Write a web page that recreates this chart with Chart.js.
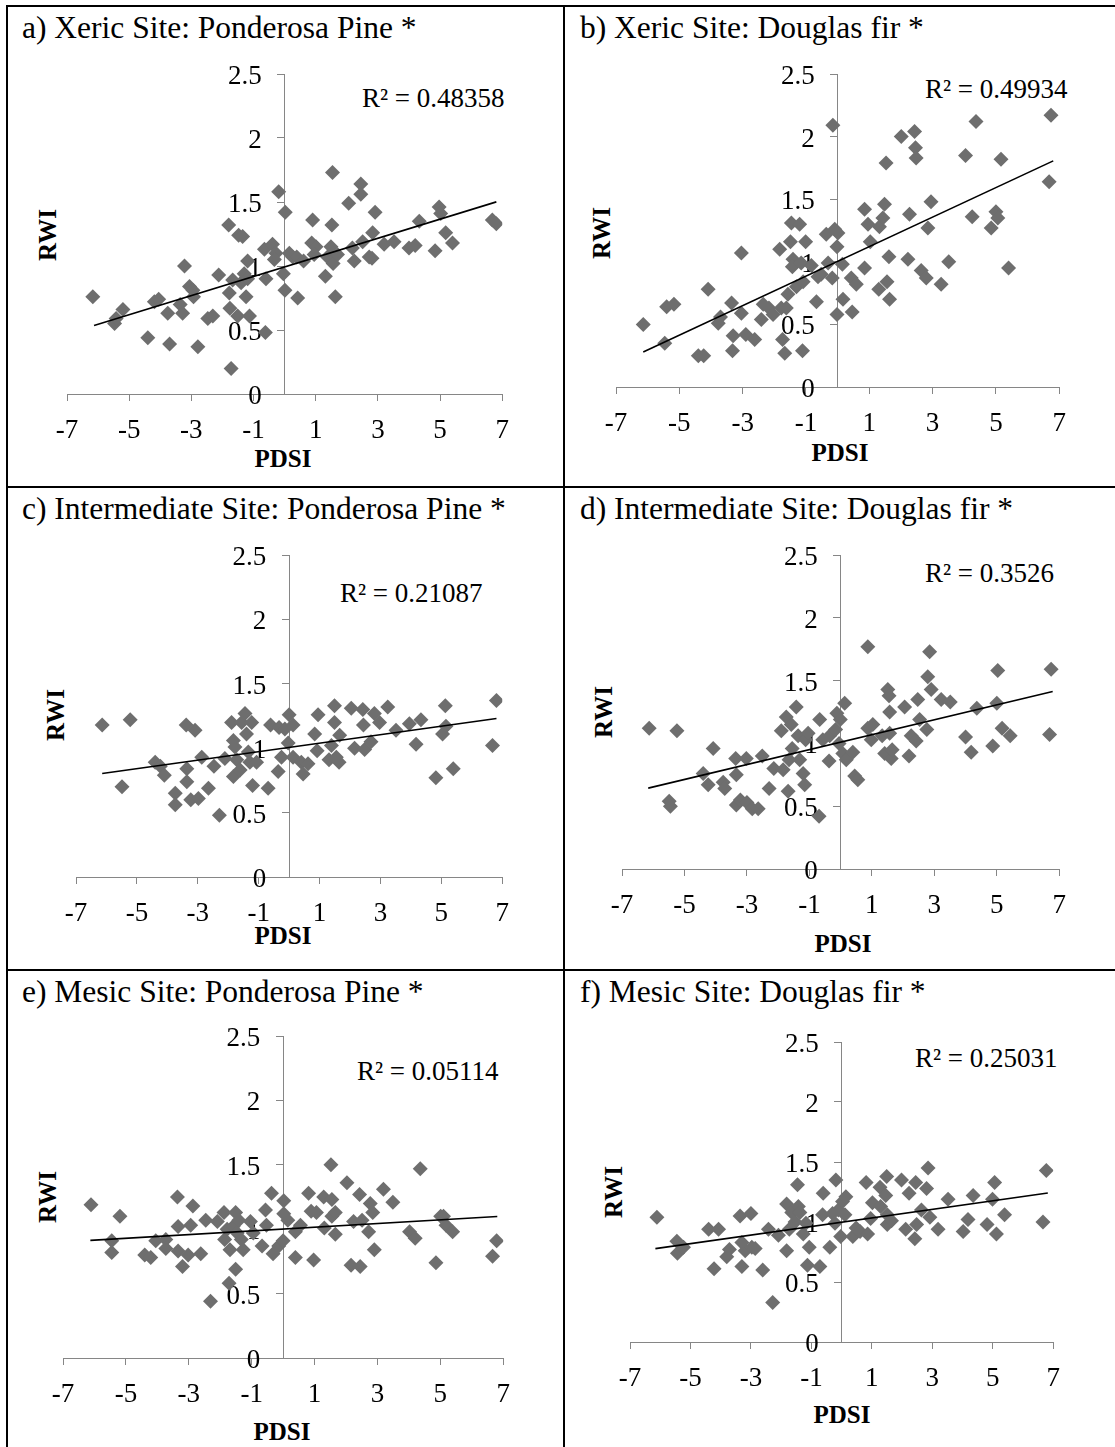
<!DOCTYPE html>
<html>
<head>
<meta charset="utf-8">
<script src="https://cdn.jsdelivr.net/npm/chart.js@4.4.1/dist/chart.umd.min.js"></script>
<style>
html,body{margin:0;padding:0;background:#fff;}
body{width:1115px;height:1447px;position:relative;overflow:hidden;font-family:"Liberation Serif","Times New Roman",serif;color:#000;}
.ln{position:absolute;background:#000;}
.txt{position:absolute;white-space:nowrap;}
.ax{position:absolute;white-space:nowrap;font-weight:bold;font-size:25px;line-height:25px;}
canvas{position:absolute;}
</style>
</head>
<body>
<script>
// ---------------- DATA ----------------
const xTicks = [-7, -5, -3, -1, 1, 3, 5, 7];
const yTicks = [0, 0.5, 1, 1.5, 2, 2.5];

const panelTitles = [
  "a) Xeric Site: Ponderosa Pine *",
  "b) Xeric Site: Douglas fir *",
  "c) Intermediate Site: Ponderosa Pine *",
  "d) Intermediate Site: Douglas fir *",
  "e) Mesic Site: Ponderosa Pine *",
  "f) Mesic Site: Douglas fir *"
];
const r2Labels = ["R\u00B2 = 0.48358", "R\u00B2 = 0.49934", "R\u00B2 = 0.21087", "R\u00B2 = 0.3526", "R\u00B2 = 0.05114", "R\u00B2 = 0.25031"];
const xAxisName = "PDSI";
const yAxisName = "RWI";

// a) Xeric Ponderosa Pine
const aX = [-6.17,-5.47,-5.42,-5.2,-4.4,-4.19,-4.05,-3.76,-3.7,-3.36,
-3.28,-3.22,-3.06,-2.95,-2.93,-2.79,-2.47,-2.31,-2.12,-1.8,
-1.78,-1.76,-1.72,-1.67,-1.51,-1.48,-1.35,-1.4,-1.24,-1.19,
-1.13,-1.3,-1.19,-0.62,-0.6,-0.65,-0.39,-0.28,-0.33,-0.19,
0.02,-0.04,0.01,0.15,0.26,0.42,0.39,0.61,0.9,0.87,
1.01,0.95,1.31,1.38,1.49,1.52,1.54,1.56,1.63,1.7,
2.06,2.18,2.24,2.45,2.45,2.51,2.72,2.81,2.83,2.91,
3.2,3.52,4.0,4.2,4.33,4.84,4.97,5.02,5.18,5.4,
6.68,6.81];
const aY = [0.76,0.55,0.59,0.66,0.44,0.72,0.74,0.63,0.39,0.7,
0.63,1.0,0.84,0.81,0.76,0.37,0.59,0.61,0.93,1.32,
0.79,0.67,0.2,0.89,0.61,1.24,1.23,0.87,0.76,1.04,
0.61,0.94,0.9,0.48,0.9,1.13,1.17,1.1,1.05,1.58,
1.42,0.94,0.81,1.1,1.07,0.75,1.07,1.04,1.36,1.18,
1.15,1.09,0.92,1.07,1.15,1.32,1.73,1.02,0.76,1.09,
1.49,1.14,1.04,1.64,1.56,1.19,1.07,1.06,1.26,1.42,
1.17,1.19,1.14,1.16,1.35,1.12,1.46,1.41,1.26,1.18,
1.36,1.33];
const aTrendX = [-6.13, 6.81];
const aTrendY = [0.536, 1.501];

// b) Xeric Douglas fir
const bX = [-6.14,-5.46,-5.4,-5.17,-4.4,-4.23,-4.09,-3.77,-3.7,-3.35,
-3.32,-3.3,-3.04,-3.04,-2.9,-2.62,-2.41,-2.35,-2.17,-2.04,
-1.83,-1.78,-1.74,-1.67,-1.62,-1.57,-1.49,-1.46,-1.41,-1.43,
-1.3,-1.2,-1.15,-1.11,-1.09,-1.01,-0.83,-0.67,-0.62,-0.52,
-0.36,-0.3,-0.17,-0.15,-0.09,0.01,-0.02,-0.02,0.15,0.17,
0.46,0.43,0.59,0.85,0.85,0.96,1.03,1.3,1.32,1.43,
1.48,1.53,1.56,1.62,1.64,2.01,2.22,2.27,2.43,2.46,
2.48,2.64,2.8,2.85,2.95,3.27,3.51,4.04,4.25,4.37,
4.85,5.0,5.06,5.16,5.4,6.68,6.74];
const bY = [0.5,0.35,0.64,0.66,0.25,0.25,0.78,0.51,0.56,0.67,
0.29,0.41,0.59,1.07,0.42,0.38,0.54,0.66,0.63,0.58,
1.1,0.63,0.38,0.27,0.63,0.74,1.16,1.31,1.02,0.96,
0.8,1.3,0.99,0.29,0.84,1.16,0.97,0.68,0.88,0.9,
1.22,0.99,0.87,2.09,1.26,1.23,1.12,0.58,0.98,0.7,
0.6,0.87,0.82,0.95,1.42,1.3,1.16,0.78,1.28,1.35,
1.46,1.79,0.84,1.04,0.7,2.0,1.02,1.38,2.04,1.91,
1.83,0.93,0.87,1.27,1.48,0.82,1.0,1.85,1.36,2.12,
1.27,1.4,1.35,1.82,0.95,1.64,2.17];
const bTrendX = [-6.14, 6.81];
const bTrendY = [0.279, 1.806];

// c) Intermediate Ponderosa Pine
const cX = [-6.14,-5.49,-5.22,-4.4,-4.23,-4.1,-3.74,-3.74,-3.38,-3.36,
-3.36,-3.23,-3.09,-2.98,-2.87,-2.65,-2.47,-2.29,-2.11,-1.89,
-1.83,-1.83,-1.78,-1.72,-1.61,-1.56,-1.45,-1.4,-1.34,-1.29,
-1.23,-1.2,-1.07,-0.69,-0.61,-0.36,-0.33,-0.25,-0.14,0.0,
-0.03,0.13,0.13,0.4,0.46,0.62,0.84,0.95,0.92,1.31,
1.39,1.49,1.49,1.55,1.64,1.66,2.04,2.15,2.42,2.44,
2.48,2.69,2.8,2.97,3.24,3.51,3.95,4.17,4.33,4.82,
5.04,5.13,5.15,5.39,6.68,6.81];
const cY = [1.18,0.7,1.22,0.89,0.86,0.79,0.65,0.56,1.18,0.84,
0.74,0.6,1.14,0.61,0.93,0.69,0.86,0.48,0.92,1.2,
1.06,0.78,1.01,0.91,0.83,1.2,1.27,1.11,0.97,0.89,
1.2,0.71,0.89,0.69,1.18,0.82,1.16,0.93,1.15,1.26,
1.04,1.18,0.93,0.89,0.8,0.88,1.11,1.26,0.98,0.91,
1.02,1.2,1.33,0.93,0.89,1.1,1.31,1.0,1.3,1.18,
0.99,1.05,1.27,1.2,1.32,1.14,1.19,1.03,1.22,0.77,
1.11,1.33,1.17,0.84,1.02,1.37];
const cTrendX = [-6.14, 6.81];
const cTrendY = [0.803, 1.231];

// d) Intermediate Douglas fir
const dX = [-6.13,-5.24,-5.49,-5.45,-4.4,-4.24,-4.08,-3.76,-3.71,-3.36,
-3.34,-3.34,-3.21,-3.02,-3.0,-2.83,-2.64,-2.51,-2.29,-2.14,
-1.9,-1.84,-1.74,-1.68,-1.65,-1.58,-1.55,-1.42,-1.36,-1.31,
-1.2,-1.15,-1.12,-1.04,-0.69,-0.67,-0.57,-0.37,-0.35,-0.16,
-0.12,-0.05,-0.01,0.07,0.13,0.18,0.39,0.45,0.55,0.87,
0.87,0.98,1.03,1.33,1.41,1.51,1.55,1.57,1.57,1.62,
1.65,2.05,2.19,2.26,2.42,2.47,2.53,2.76,2.79,2.85,
2.9,3.22,3.51,4.0,4.18,4.36,4.87,5.0,5.03,5.17,
5.43,6.69,6.74];
const dY = [1.12,1.1,0.54,0.5,0.76,0.67,0.96,0.69,0.64,0.88,
0.75,0.51,0.55,0.88,0.53,0.48,0.48,0.9,0.64,0.8,
1.1,0.79,1.21,0.62,0.87,1.15,0.96,1.29,1.06,0.87,
0.76,0.67,1.03,1.08,0.42,1.19,1.03,0.86,1.06,1.11,
1.24,1.0,1.19,0.92,1.32,0.87,0.93,0.74,0.71,1.77,
1.12,1.03,1.15,1.06,0.92,1.43,1.38,1.25,1.08,0.88,
0.95,1.29,0.9,1.06,1.02,1.35,1.19,1.11,1.53,1.73,
1.43,1.35,1.33,1.05,0.93,1.28,0.98,1.32,1.58,1.12,
1.06,1.07,1.59];
const dTrendX = [-6.16, 6.79];
const dTrendY = [0.644, 1.413];

// e) Mesic Ponderosa Pine
const eX = [-6.11,-5.45,-5.45,-5.19,-4.4,-4.21,-4.05,-3.73,-3.73,-3.36,
-3.34,-3.34,-3.2,-3.02,-2.94,-2.87,-2.62,-2.46,-2.31,-2.09,
-1.88,-1.86,-1.78,-1.72,-1.69,-1.59,-1.51,-1.51,-1.46,-1.41,
-1.33,-1.27,-1.04,-0.95,-0.67,-0.56,-0.53,-0.37,-0.32,-0.14,
0.0,0.02,0.02,0.15,0.39,0.39,0.55,0.81,0.89,0.97,
1.06,1.29,1.31,1.52,1.55,1.55,1.66,1.66,2.03,2.16,
2.24,2.43,2.45,2.51,2.72,2.77,2.85,2.9,3.19,3.49,
4.02,4.2,4.36,4.86,5.01,5.1,5.18,5.39,6.66,6.79];
const eY = [1.19,0.91,0.82,1.1,0.8,0.78,0.91,0.92,0.85,1.25,
1.02,0.83,0.71,0.8,1.03,1.18,0.81,1.07,0.44,1.06,
1.13,0.92,1.0,0.58,0.84,1.02,1.13,0.69,0.97,1.07,
0.92,0.84,1.06,0.97,0.87,1.15,1.03,1.28,0.81,0.87,
0.91,1.12,1.22,1.07,0.98,0.78,1.03,1.28,1.14,0.76,
1.13,1.25,1.01,1.5,1.23,1.1,1.13,0.96,1.36,0.72,
1.06,1.27,0.71,1.07,0.98,1.2,1.13,0.84,1.31,1.21,
0.98,0.93,1.47,0.74,1.1,1.1,1.03,0.98,0.79,0.91];
const eTrendX = [-6.13, 6.81];
const eTrendY = [0.913, 1.099];

// f) Mesic Douglas fir
const fX = [-6.11,-5.45,-5.43,-5.23,-4.4,-4.22,-4.07,-3.8,-3.71,-3.36,
-3.3,-3.3,-3.19,-3.0,-2.97,-2.86,-2.61,-2.42,-2.28,-2.09,
-1.82,-1.82,-1.73,-1.65,-1.54,-1.46,-1.43,-1.38,-1.27,-1.18,
-1.13,-1.07,-0.72,-0.61,-0.63,-0.39,-0.3,-0.22,-0.19,-0.11,
-0.03,0.03,0.11,0.14,0.37,0.48,0.61,0.81,0.86,0.96,
1.02,1.27,1.29,1.46,1.49,1.51,1.51,1.65,1.98,2.12,
2.23,2.42,2.45,2.48,2.64,2.81,2.86,2.92,3.19,3.52,
4.02,4.18,4.35,4.81,4.99,5.06,5.12,5.39,6.66,6.77];
const fY = [1.04,0.84,0.74,0.79,0.94,0.61,0.94,0.71,0.77,1.05,
0.83,0.63,0.76,1.07,0.79,0.78,0.6,0.94,0.33,0.89,
0.76,1.15,0.94,1.08,1.0,1.31,1.13,1.08,0.9,0.99,
0.64,0.79,0.63,1.24,1.06,0.79,1.07,0.99,1.35,1.1,
0.88,1.17,1.06,1.21,0.88,0.95,0.92,1.33,0.9,1.03,
1.16,1.29,1.13,1.22,1.38,1.06,0.98,1.01,1.35,0.94,
1.24,0.86,1.33,0.98,1.1,1.28,1.45,1.04,0.94,1.19,
0.92,1.02,1.22,0.98,1.19,1.33,0.9,1.06,1.0,1.43];
const fTrendX = [-6.16, 6.82];
const fTrendY = [0.778, 1.242];

// ---------------- LAYOUT (page pixels) ----------------
const panels = [
  {xs:aX, ys:aY, tx:aTrendX, ty:aTrendY, plot:[67,503,74,394],  title:[22,38],   r2:[362,108],  rwi:[47,235],  pdsi:[283,458]},
  {xs:bX, ys:bY, tx:bTrendX, ty:bTrendY, plot:[616,1060,74,387], title:[580,38],  r2:[925,99],   rwi:[601,233], pdsi:[840,452]},
  {xs:cX, ys:cY, tx:cTrendX, ty:cTrendY, plot:[76,503,555,877],  title:[22,519],  r2:[340,603],  rwi:[55,715],  pdsi:[283,935]},
  {xs:dX, ys:dY, tx:dTrendX, ty:dTrendY, plot:[622,1060,555,869],title:[580,519], r2:[925,583],  rwi:[603,712], pdsi:[843,943]},
  {xs:eX, ys:eY, tx:eTrendX, ty:eTrendY, plot:[63,504,1036,1358],title:[22,1002], r2:[357,1081], rwi:[47,1197], pdsi:[282,1431]},
  {xs:fX, ys:fY, tx:fTrendX, ty:fTrendY, plot:[630,1054,1042,1342],title:[580,1002],r2:[915,1068], rwi:[613,1192],pdsi:[842,1414]}
];

const FONT = '"Liberation Serif", "Times New Roman", serif';
const MARK = '#6e6e6e';
const AXIS = '#868686';
const TITLE_SIZE = 31.5;
const R2_SIZE = 27;
const TICK_SIZE = 27;
const LABEL_GAP = 23; // px between y axis line and right edge of its labels

function line(x, y, w, h) {
  const d = document.createElement('div');
  d.className = 'ln';
  d.style.left = x + 'px'; d.style.top = y + 'px';
  d.style.width = w + 'px'; d.style.height = h + 'px';
  document.body.appendChild(d);
}
// table borders
line(6, 5, 1109, 2);
line(6, 5, 2, 1442);
line(563, 5, 2, 1442);
line(6, 486, 1109, 2);
line(6, 969, 1109, 2);

function textAt(str, x, baseline, size) {
  const d = document.createElement('div');
  d.className = 'txt';
  d.textContent = str;
  d.style.fontSize = size + 'px';
  d.style.lineHeight = size + 'px';
  d.style.left = x + 'px';
  d.style.top = (baseline - 0.8375 * size) + 'px';
  document.body.appendChild(d);
}
function axisLabel(str, cx, cy, rotate) {
  const d = document.createElement('div');
  d.className = 'ax';
  d.textContent = str;
  d.style.left = cx + 'px';
  d.style.top = cy + 'px';
  d.style.transform = 'translate(-50%,-50%)' + (rotate ? ' rotate(-90deg)' : '');
  document.body.appendChild(d);
}

const PADL = 40, PADR = 20, PADT = 20, XBOX = 60;

panels.forEach((p, i) => {
  textAt(panelTitles[i], p.title[0], p.title[1], TITLE_SIZE);
  textAt(r2Labels[i], p.r2[0], p.r2[1], R2_SIZE);
  axisLabel(yAxisName, p.rwi[0], p.rwi[1], true);
  axisLabel(xAxisName, p.pdsi[0], p.pdsi[1], false);

  const [L, R, T, B] = p.plot;
  const cv = document.createElement('canvas');
  const W = (R - L) + PADL + PADR;
  const H = (B - T) + PADT + XBOX;
  cv.width = W; cv.height = H;
  cv.style.width = W + 'px'; cv.style.height = H + 'px';
  cv.style.left = (L - PADL) + 'px';
  cv.style.top = (T - PADT) + 'px';
  document.body.appendChild(cv);

  const pts = p.xs.map((x, k) => ({x: x, y: p.ys[k]}));
  const trend = p.tx.map((x, k) => ({x: x, y: p.ty[k]}));
  const labelX = -LABEL_GAP / ((R - L) / 14);

  new Chart(cv, {
    type: 'scatter',
    data: {
      datasets: [
        {type: 'line', data: trend, borderColor: '#000', borderWidth: 1.6, pointRadius: 0, fill: false, tension: 0, order: 0},
        {data: pts, pointStyle: 'rectRot', pointRadius: 7.5, pointHoverRadius: 7.5, backgroundColor: MARK, borderColor: MARK, borderWidth: 0, order: 1}
      ]
    },
    options: {
      responsive: false,
      animation: false,
      devicePixelRatio: 1,
      layout: {padding: {left: PADL, right: PADR, top: PADT, bottom: 0}},
      plugins: {legend: {display: false}, tooltip: {enabled: false}},
      scales: {
        x: {
          type: 'linear', position: 'bottom', min: -7, max: 7,
          afterBuildTicks: s => { s.ticks = xTicks.map(v => ({value: v})); },
          afterFit: s => { s.height = XBOX; },
          grid: {display: true, drawOnChartArea: false, drawTicks: true, tickLength: 7, color: AXIS},
          border: {display: true, color: AXIS, width: 1},
          ticks: {font: {family: FONT, size: TICK_SIZE}, color: '#000', padding: 14, maxRotation: 0, autoSkip: false,
                  callback: v => String(v)}
        },
        y: {
          type: 'linear', position: {x: 0}, min: 0, max: 2.5,
          afterBuildTicks: s => { s.ticks = yTicks.map(v => ({value: v})); },
          grid: {display: true, drawOnChartArea: false, drawTicks: true, tickLength: 7, color: AXIS},
          border: {display: true, color: AXIS, width: 1},
          ticks: {display: false}
        },
        yl: {
          axis: 'y', type: 'linear', position: {x: labelX}, min: 0, max: 2.5,
          afterBuildTicks: s => { s.ticks = yTicks.map(v => ({value: v})); },
          grid: {display: false},
          border: {display: false},
          ticks: {font: {family: FONT, size: TICK_SIZE}, color: '#000', autoSkip: false, labelOffset: 3,
                  callback: v => String(v)}
        }
      }
    }
  });
});
</script>
</body>
</html>
